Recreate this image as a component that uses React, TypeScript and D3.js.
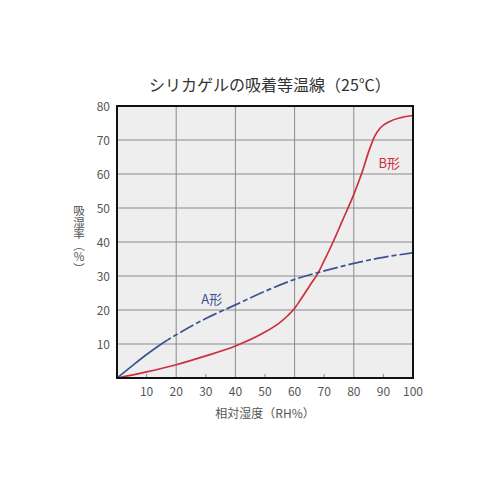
import React from "react";
import * as d3 from "d3";

const titleText = "シリカゲルの吸着等温線（25℃）";
const yAxisTitle = "吸湿率（%）";
const xAxisTitle = "相対湿度（RH%）";
const xTicks = [10, 20, 30, 40, 50, 60, 70, 80, 90, 100];
const xGrid = [20, 40, 60, 80];
const xMinor = [10, 30, 50, 70, 90];
const yTicks = [10, 20, 30, 40, 50, 60, 70, 80];

const rhA = [0, 5, 10, 15, 20, 30, 40, 50, 60, 70, 80, 90, 100];
const valA = [0, 3.5, 6.9, 10, 12.7, 17.5, 21.5, 25.5, 29, 31.5, 33.7, 35.5, 36.8];

const rhB = [0, 10, 20, 30, 40, 50, 55, 58, 60, 62, 65, 68, 70, 73, 76, 80, 83, 85, 87, 89, 92, 96, 100];
const valB = [0, 1.8, 3.9, 6.5, 9.4, 13.5, 16.3, 18.6, 20.5, 23, 27, 31, 34.5, 40, 46, 54, 61, 66.5, 71, 73.6, 75.4, 76.6, 77.2];

const colorA = "#3b5491";
const colorB = "#cc2f3f";
const font = "'Noto Sans CJK JP', 'Noto Sans', sans-serif";

export default function App() {
  const left = 117, right = 413, top = 106, bottom = 378;
  const x = d3.scaleLinear().domain([0, 100]).range([left, right]);
  const y = d3.scaleLinear().domain([0, 80]).range([bottom, top]);

  const ptsA: [number, number][] = rhA.map((r, i) => [r, valA[i]]);
  const ptsB: [number, number][] = rhB.map((r, i) => [r, valB[i]]);
  const lineA = d3.line<[number, number]>().x(d => x(d[0])).y(d => y(d[1])).curve(d3.curveMonotoneX);
  const lineB = d3.line<[number, number]>().x(d => x(d[0])).y(d => y(d[1])).curve(d3.curveMonotoneX);

  return (
    <svg width={500} height={500} style={{ position: "absolute", left: 0, top: 0 }} fontFamily={font}>
      <rect width={500} height={500} fill="#fff" />
      <defs>
        <clipPath id="solidA">
          <rect x={left} y={top} width={x(17) - left} height={bottom - top} />
        </clipPath>
        <clipPath id="dashA">
          <rect x={x(17)} y={top} width={right - x(17)} height={bottom - top} />
        </clipPath>
      </defs>
      <text x={270} y={91} textAnchor="middle" fontSize={16} fill="#333">{titleText}</text>
      <rect x={left} y={top} width={right - left} height={bottom - top} fill="#eeeeee" />
      {xGrid.map(t => (
        <line key={"gx" + t} x1={x(t)} x2={x(t)} y1={top} y2={bottom} stroke="#8a8a8a" strokeWidth={1} />
      ))}
      {yTicks.map(t => (
        <line key={"gy" + t} x1={left} x2={right} y1={y(t)} y2={y(t)} stroke="#8a8a8a" strokeWidth={1} />
      ))}
      {xMinor.map(t => (
        <line key={"mx" + t} x1={x(t)} x2={x(t)} y1={bottom} y2={bottom - 4} stroke="#8a8a8a" strokeWidth={1} />
      ))}
      <path d={lineB(ptsB) || ""} fill="none" stroke={colorB} strokeWidth={1.7} />
      <path d={lineA(ptsA) || ""} fill="none" stroke={colorA} strokeWidth={1.7} clipPath="url(#solidA)" />
      <path d={lineA(ptsA) || ""} fill="none" stroke={colorA} strokeWidth={1.7} strokeDasharray="15,3,5,3" clipPath="url(#dashA)" />
      <rect x={left} y={top} width={right - left} height={bottom - top} fill="none" stroke="#111" strokeWidth={2} />
      <text x={x(32)} y={y(23) + 4} textAnchor="middle" fontSize={13} fill={colorA}>A形</text>
      <text x={x(92)} y={y(63) + 4} textAnchor="middle" fontSize={13} fill={colorB}>B形</text>
      {xTicks.map(t => (
        <text key={"xt" + t} x={x(t)} y={396} textAnchor="middle" fontSize={12} fill="#555">{t}</text>
      ))}
      {yTicks.map(t => (
        <text key={"yt" + t} x={110} y={y(t) + 4.5} textAnchor="end" fontSize={12} fill="#555">{t}</text>
      ))}
      <text x={265} y={418} textAnchor="middle" fontSize={12} fill="#555">{xAxisTitle}</text>
      <text x={79} y={205} fontSize={11.5} fill="#555"
        style={{ writingMode: "vertical-rl", textOrientation: "upright" } as React.CSSProperties}>{yAxisTitle}</text>
    </svg>
  );
}
